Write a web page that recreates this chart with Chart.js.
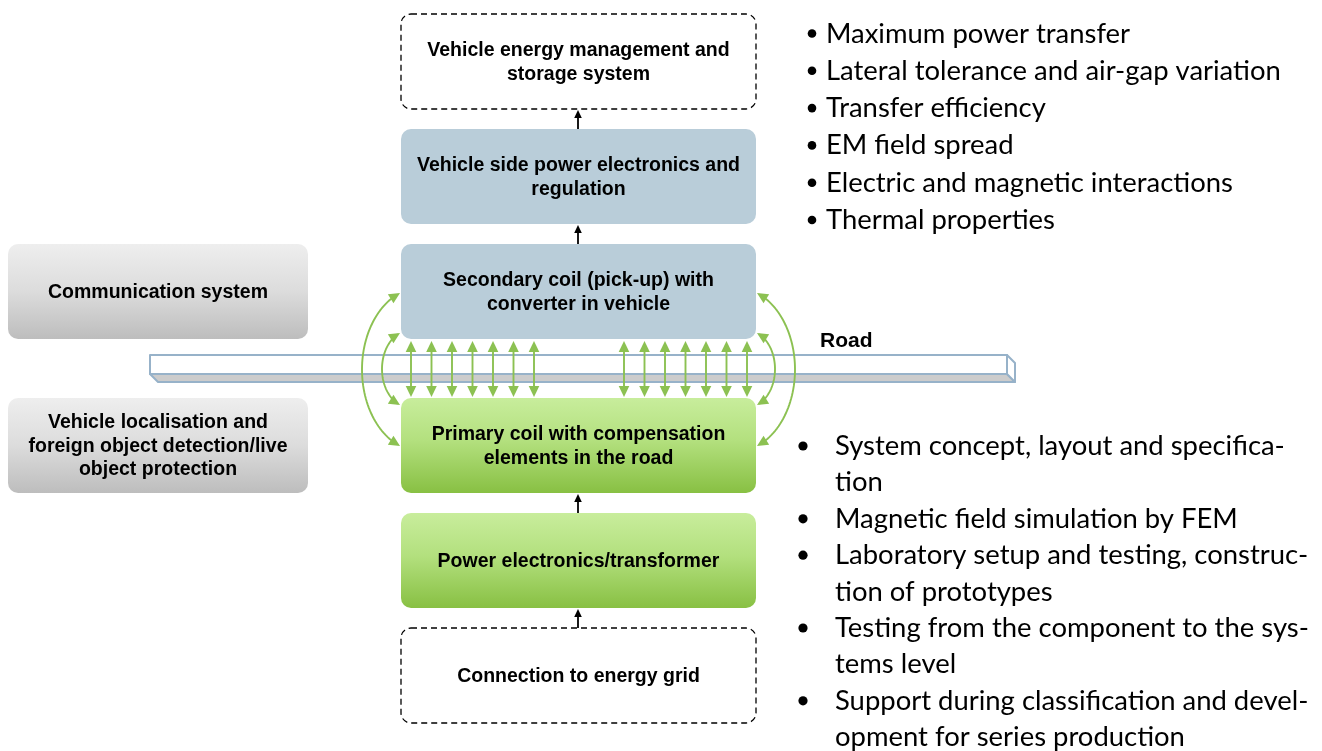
<!DOCTYPE html>
<html>
<head>
<meta charset="utf-8">
<script src="https://cdn.jsdelivr.net/npm/chart.js@4.4.1/dist/chart.umd.min.js"></script>
<style>
  html, body { margin: 0; padding: 0; background: #ffffff; }
  canvas { display: block; }
</style>
</head>
<body>
<canvas id="diagram" width="1322" height="751"></canvas>
<script>
// ---- content of the diagram ----
const mainLabels = [
    ['Vehicle energy management and', 'storage system'],
    ['Vehicle side power electronics and', 'regulation'],
    ['Secondary coil (pick-up) with', 'converter in vehicle'],
    ['Primary coil with compensation', 'elements in the road'],
    ['Power electronics/transformer'],
    ['Connection to energy grid'],
];
const mainKinds = ['dashed', 'blue', 'blue', 'green', 'green', 'dashed'];
const mainRowTops = [14, 129, 244, 398, 513, 628];

const sideLabels = [
    ['Communication system'],
    ['Vehicle localisation and', 'foreign object detection/live', 'object protection'],
];
const sideRowTops = [244, 398];

const roadLabel = 'Road';

const designTopics = [
    'Maximum power transfer',
    'Lateral tolerance and air-gap variation',
    'Transfer efficiency',
    'EM field spread',
    'Electric and magnetic interactions',
    'Thermal properties',
];

const serviceItems = [
    ['System concept, layout and specifica-', 'tion'],
    ['Magnetic field simulation by FEM'],
    ['Laboratory setup and testing, construc-', 'tion of prototypes'],
    ['Testing from the component to the sys-', 'tems level'],
    ['Support during classification and devel-', 'opment for series production'],
];

// ---- layout (in diagram units, 1 unit = 1 px of the original) ----
const W = 1322, H = 751;
const main = { left: 401, right: 756, h: 95, r: 10 };
const side = { left: 8, right: 308, h: 95, r: 10 };
const road = { left: 150, right: 1007, top: 355, face: 374, bottom: 382, depth: 8 };
const field = { groups: [411, 624], count: 7, step: 20.5, top: 341, bottom: 397 };
const loops = [
    { y1: 293, y2: 446, bulge: 38 },
    { y1: 333, y2: 405, bulge: 18 },
];
const connectorX = 578;
const topList = { dotX: 812, textX: 826, firstBase: 42.5, step: 37.3, dotR: 4.3 };
const botList = { dotX: 803, textX: 835, firstBase: 455, step: 36.4, dotR: 4.6 };
const listFontFamily = 'Lato, "Open Sans", sans-serif';
const boxFont = 'bold 19.5px "Liberation Sans", Arial, sans-serif';

const GREEN = '#8cc152';
const ROAD_LINE = '#97b2c9';

// one bullet dot per list item, placed on the list's grid
const bulletPoints = [];
designTopics.forEach((t, i) => bulletPoints.push({ x: topList.dotX, y: topList.firstBase + i * topList.step - 9 }));
let lineNo = 0;
serviceItems.forEach((item) => {
    bulletPoints.push({ x: botList.dotX, y: botList.firstBase + lineNo * botList.step - 9 });
    lineNo += item.length;
});

const drawArrowHead = (ctx, tipX, tipY, angle, len, half, color) => {
    ctx.save();
    ctx.translate(tipX, tipY);
    ctx.rotate(angle);
    ctx.beginPath();
    ctx.moveTo(0, 0);
    ctx.lineTo(-len, -half);
    ctx.lineTo(-len, half);
    ctx.closePath();
    ctx.fillStyle = color;
    ctx.fill();
    ctx.restore();
};

const diagramPlugin = {
    id: 'diagram',
    beforeDatasetsDraw(chart) {
        const ctx = chart.ctx;
        const sx = chart.scales.x, sy = chart.scales.y;
        const px = (v) => sx.getPixelForValue(v);
        const py = (v) => sy.getPixelForValue(v);

        ctx.save();

        // road (drawn first, everything else sits on top)
        const rl = px(road.left), rr = px(road.right), rt = py(road.top), rf = py(road.face), rb = py(road.bottom);
        const d = road.depth;
        ctx.lineWidth = 2;
        ctx.strokeStyle = ROAD_LINE;
        ctx.lineJoin = 'round';
        ctx.beginPath();
        ctx.moveTo(rl, rf); ctx.lineTo(rr, rf); ctx.lineTo(rr + d, rb); ctx.lineTo(rl + d, rb); ctx.closePath();
        ctx.fillStyle = '#cccccc';
        ctx.fill(); ctx.stroke();
        ctx.beginPath();
        ctx.moveTo(rr, rt); ctx.lineTo(rr + d, rt + d); ctx.lineTo(rr + d, rb); ctx.lineTo(rr, rf); ctx.closePath();
        ctx.fillStyle = '#ffffff';
        ctx.fill(); ctx.stroke();
        ctx.beginPath();
        ctx.rect(rl, rt, rr - rl, rf - rt);
        ctx.fill(); ctx.stroke();

        // road label
        ctx.fillStyle = '#000000';
        ctx.font = 'bold 21px "Liberation Sans", Arial, sans-serif';
        ctx.textAlign = 'left';
        ctx.textBaseline = 'alphabetic';
        ctx.fillText(roadLabel, px(820), py(347));

        // boxes
        const drawBox = (left, right, top, h, r, kind, lines) => {
            const x = px(left), y = py(top), w = px(right) - x, hh = py(top + h) - y;
            ctx.save();
            ctx.beginPath();
            ctx.roundRect(x, y, w, hh, r);
            if (kind === 'dashed') {
                ctx.setLineDash([6, 4]);
                ctx.lineWidth = 1.3;
                ctx.strokeStyle = '#000000';
                ctx.stroke();
            } else {
                let fill;
                if (kind === 'blue') {
                    fill = '#b9cdd9';
                } else if (kind === 'green') {
                    fill = ctx.createLinearGradient(0, y, 0, y + hh);
                    fill.addColorStop(0, '#c8ed9c');
                    fill.addColorStop(0.45, '#b3e07e');
                    fill.addColorStop(1, '#88c043');
                } else {
                    fill = ctx.createLinearGradient(0, y, 0, y + hh);
                    fill.addColorStop(0, '#eeeeee');
                    fill.addColorStop(0.5, '#dcdcdc');
                    fill.addColorStop(1, '#bdbdbd');
                }
                ctx.fillStyle = fill;
                ctx.fill();
            }
            ctx.restore();
            ctx.fillStyle = '#000000';
            ctx.font = boxFont;
            ctx.textAlign = 'center';
            ctx.textBaseline = 'middle';
            const lh = 23.5;
            const cy = y + hh / 2 + 1;
            lines.forEach((line, i) => {
                ctx.fillText(line, x + w / 2, cy + (i - (lines.length - 1) / 2) * lh);
            });
        };

        mainLabels.forEach((lines, i) => drawBox(main.left, main.right, mainRowTops[i], main.h, main.r, mainKinds[i], lines));
        sideLabels.forEach((lines, i) => drawBox(side.left, side.right, sideRowTops[i], side.h, side.r, 'gray', lines));

        // black connectors between stacked boxes (skip the air gap between coils)
        ctx.strokeStyle = '#000000';
        ctx.lineWidth = 1.8;
        for (let i = 0; i < mainRowTops.length - 1; i++) {
            if (i === 2) continue;
            const from = py(mainRowTops[i + 1]);
            const to = py(mainRowTops[i] + main.h + 1);
            const cx = px(connectorX);
            ctx.beginPath();
            ctx.moveTo(cx, from);
            ctx.lineTo(cx, to + 6);
            ctx.stroke();
            drawArrowHead(ctx, cx, to, -Math.PI / 2, 8, 3.8, '#000000');
        }

        // straight field arrows through the road
        ctx.strokeStyle = GREEN;
        ctx.lineWidth = 1.9;
        field.groups.forEach((start) => {
            for (let k = 0; k < field.count; k++) {
                const fx = px(start + k * field.step);
                const t = py(field.top), b = py(field.bottom);
                ctx.beginPath();
                ctx.moveTo(fx, t + 8);
                ctx.lineTo(fx, b - 8);
                ctx.stroke();
                drawArrowHead(ctx, fx, t, -Math.PI / 2, 11, 5.3, GREEN);
                drawArrowHead(ctx, fx, b, Math.PI / 2, 11, 5.3, GREEN);
            }
        });

        // curved field loops on both sides of the coils
        const th0 = 0.36;
        [[main.left - 1, -1], [main.right + 1, 1]].forEach(([ex, dir]) => {
            loops.forEach((lp) => {
                const bulgeX = ex + dir * lp.bulge;
                const dd = (bulgeX - ex) / (1 - Math.sin(th0));
                const cxv = bulgeX - dd;
                const cyv = (lp.y1 + lp.y2) / 2;
                const ry = (cyv - lp.y1) / Math.cos(th0);
                const pts = [];
                const n = 60;
                for (let s = 0; s <= n; s++) {
                    const th = th0 + (Math.PI - 2 * th0) * s / n;
                    pts.push([px(cxv + dd * Math.sin(th)), py(cyv - ry * Math.cos(th))]);
                }
                // pull line ends back so the heads sit at the tips
                const a0 = Math.atan2(pts[0][1] - pts[3][1], pts[0][0] - pts[3][0]);
                const a1 = Math.atan2(pts[n][1] - pts[n - 3][1], pts[n][0] - pts[n - 3][0]);
                ctx.beginPath();
                for (let s = 2; s <= n - 2; s++) {
                    if (s === 2) ctx.moveTo(pts[s][0], pts[s][1]);
                    else ctx.lineTo(pts[s][0], pts[s][1]);
                }
                ctx.stroke();
                drawArrowHead(ctx, pts[0][0], pts[0][1], a0, 11, 5.3, GREEN);
                drawArrowHead(ctx, pts[n][0], pts[n][1], a1, 11, 5.3, GREEN);
            });
        });

        // bullet lists
        ctx.fillStyle = '#000000';
        ctx.textAlign = 'left';
        ctx.textBaseline = 'alphabetic';
        ctx.font = '100px ' + listFontFamily;
        const fitSize = 100 * 455 / ctx.measureText(designTopics[1]).width;
        ctx.font = fitSize.toFixed(2) + 'px ' + listFontFamily;
        designTopics.forEach((t, i) => {
            ctx.fillText(t, px(topList.textX), py(topList.firstBase + i * topList.step));
        });
        let ln = 0;
        serviceItems.forEach((item) => {
            item.forEach((line) => {
                ctx.fillText(line, px(botList.textX), py(botList.firstBase + ln * botList.step));
                ln++;
            });
        });

        ctx.restore();
    },
};

const chart = new Chart(document.getElementById('diagram').getContext('2d'), {
    type: 'scatter',
    data: {
        datasets: [
            {
                label: 'bullets',
                data: bulletPoints,
                pointRadius: bulletPoints.map((p) => (p.x === topList.dotX ? topList.dotR : botList.dotR)),
                pointBackgroundColor: '#000000',
                pointBorderWidth: 0,
                pointHoverRadius: 0,
                clip: false,
            },
        ],
    },
    options: {
        responsive: false,
        animation: false,
        devicePixelRatio: 1,
        layout: { padding: 0, autoPadding: false },
        events: [],
        scales: {
            x: { type: 'linear', min: 0, max: W, display: false },
            y: { type: 'linear', min: 0, max: H, reverse: true, display: false },
        },
        plugins: {
            legend: { display: false },
            tooltip: { enabled: false },
        },
    },
    plugins: [diagramPlugin],
});
</script>
</body>
</html>
